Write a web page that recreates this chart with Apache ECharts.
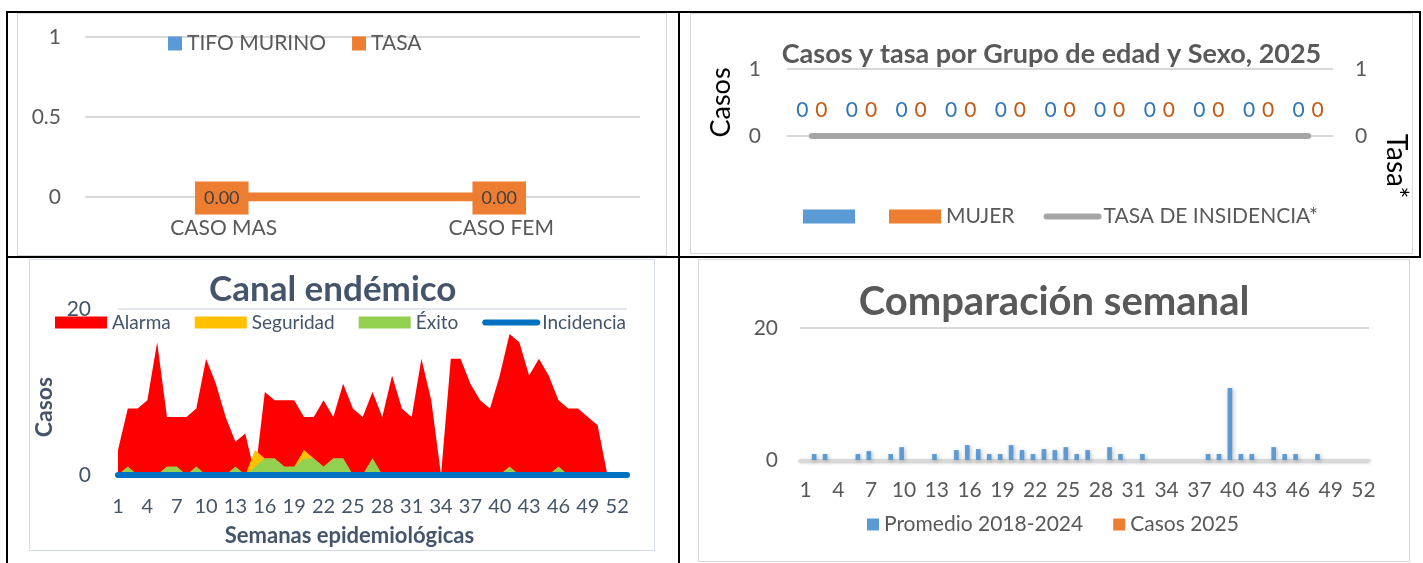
<!DOCTYPE html>
<html>
<head>
<meta charset="utf-8">
<script src="https://cdn.jsdelivr.net/npm/echarts@6/dist/echarts.min.js"></script>
<style>
  body { margin: 0; width: 1423px; height: 563px; background: #fff; position: relative; overflow: hidden; }
  .rule { position: absolute; background: #000; z-index: 5; }
  .box { position: absolute; box-sizing: border-box; border: 1px solid #d9d9d9; background: #fff; }
  .chart { position: absolute; left: 0; top: 0; width: 100%; height: 100%; }
</style>
</head>
<body>
<div class="box" style="left:17px;top:13px;width:650px;height:243px"><div id="c1" class="chart"></div></div>
<div class="box" style="left:690px;top:13px;width:723px;height:241px"><div id="c2" class="chart"></div></div>
<div class="box" style="left:29px;top:259px;width:626px;height:292px;border-color:#d6dce5"><div id="c3" class="chart"></div></div>
<div class="box" style="left:698px;top:259px;width:712px;height:303px"><div id="c4" class="chart"></div></div>

<div class="rule" style="left:6px;top:11px;width:1415px;height:2px"></div>
<div class="rule" style="left:6px;top:11px;width:2px;height:552px"></div>
<div class="rule" style="left:678px;top:11px;width:2px;height:552px"></div>
<div class="rule" style="left:1419px;top:11px;width:2px;height:247px"></div>
<div class="rule" style="left:6px;top:256px;width:1415px;height:2px"></div>

<script>
// casos por sexo
const sexCats = ['CASO MAS', 'CASO FEM'];
const tifoCases = [0, 0];
const tasaSexo = [0, 0];

// grupo de edad
const ageGroups = ['<1', '1-4', '5-9', '10-14', '15-19', '20-24', '25-44', '45-49', '50-59', '60-64', '65+'];
const hombres = [0, 0, 0, 0, 0, 0, 0, 0, 0, 0, 0];
const mujeres = [0, 0, 0, 0, 0, 0, 0, 0, 0, 0, 0];
const tasaEdad = [0, 0, 0, 0, 0, 0, 0, 0, 0, 0, 0];

// semanas
const weeks = ['1','2','3','4','5','6','7','8','9','10','11','12','13','14','15','16','17','18','19','20',
  '21','22','23','24','25','26','27','28','29','30','31','32','33','34','35','36','37','38','39','40',
  '41','42','43','44','45','46','47','48','49','50','51','52','53'];

// canal endemico
const alarma = [3, 8, 8, 9, 16, 7, 7, 7, 8, 14, 11, 7, 4, 5, 0, 10, 9, 9, 9, 7,
  7, 9, 7, 11, 8, 7, 10, 7, 12, 8, 7, 14, 9, 0, 14, 14, 11, 9, 8, 12,
  17, 16, 12, 14, 12, 9, 8, 8, 7, 6, 0, 0, 0];
const seguridad = [0, 1, 0, 0, 0, 1, 1, 0, 1, 0, 0, 0, 1, 0, 3, 2, 2, 1, 1, 3,
  2, 1, 2, 2, 0, 0, 2, 0, 0, 0, 0, 0, 0, 0, 0, 0, 0, 0, 0, 0,
  1, 0, 0, 0, 0, 1, 0, 0, 0, 0, 0, 0, 0];
const exito = [0, 1, 0, 0, 0, 1, 1, 0, 1, 0, 0, 0, 1, 0, 1, 2, 2, 1, 1, 2,
  2, 1, 2, 2, 0, 0, 2, 0, 0, 0, 0, 0, 0, 0, 0, 0, 0, 0, 0, 0,
  1, 0, 0, 0, 0, 1, 0, 0, 0, 0, 0, 0, 0];
const incidencia = [0, 0, 0, 0, 0, 0, 0, 0, 0, 0, 0, 0, 0, 0, 0, 0, 0, 0, 0, 0,
  0, 0, 0, 0, 0, 0, 0, 0, 0, 0, 0, 0, 0, 0, 0, 0, 0, 0, 0, 0,
  0, 0, 0, 0, 0, 0, 0, 0, 0, 0, 0, 0, 0];

// comparacion semanal (52 semanas)
const promedio = [0, 0.9, 0.9, 0, 0, 0.9, 1.35, 0, 0.9, 1.95, 0, 0, 0.9, 0, 1.5, 2.25, 1.65, 0.9, 0.9, 2.25,
  1.5, 0.9, 1.65, 1.5, 1.95, 0.9, 1.5, 0, 1.95, 0.9, 0, 0.9, 0, 0, 0, 0, 0, 0.9, 0.9, 10.9,
  0.9, 0.9, 0, 1.95, 0.9, 0.9, 0, 0.9, 0, 0, 0, 0];
const casos2025 = [0, 0, 0, 0, 0, 0, 0, 0, 0, 0, 0, 0, 0, 0, 0, 0, 0, 0, 0, 0,
  0, 0, 0, 0, 0, 0, 0, 0, 0, 0, 0, 0, 0, 0, 0, 0, 0, 0, 0, 0,
  0, 0, 0, 0, 0, 0, 0, 0, 0, 0, 0, 0];

const FONT = 'Lato';
const GRAY_TXT = '#595959';
const SLATE = '#44546A';
const BLUE = '#5B9BD5';
const ORANGE = '#ED7D31';

// ---- grafica 1: tifo murino por sexo
const chart1 = echarts.init(document.getElementById('c1'));
chart1.setOption({
  animation: false,
  textStyle: { fontFamily: FONT },
  grid: { left: 67, right: 26, top: 23, bottom: 58, outerBoundsMode: 'none' },
  legend: {
    left: 145, top: 14, itemWidth: 14, itemHeight: 14, itemGap: 26,
    textStyle: { fontFamily: FONT, fontSize: 21, color: GRAY_TXT },
    data: [{ name: 'TIFO MURINO', icon: 'rect' }, { name: 'TASA', icon: 'rect' }]
  },
  xAxis: {
    type: 'category', data: sexCats,
    axisLine: { show: false }, axisTick: { show: false },
    axisLabel: { fontFamily: FONT, fontSize: 21, color: GRAY_TXT, margin: 21 }
  },
  yAxis: {
    type: 'value', min: 0, max: 1, interval: 0.5,
    axisLabel: { fontFamily: FONT, fontSize: 21, color: GRAY_TXT, margin: 24 },
    splitLine: { lineStyle: { color: '#d9d9d9', width: 2 } }
  },
  series: [
    { name: 'TIFO MURINO', type: 'bar', data: tifoCases, itemStyle: { color: BLUE } },
    {
      name: 'TASA', type: 'line', data: tasaSexo, color: ORANGE,
      symbol: 'rect', symbolSize: 1,
      lineStyle: { width: 9, color: ORANGE },
      label: {
        show: true, position: 'inside', offset: [-2, 1], formatter: p => p.value.toFixed(2),
        backgroundColor: ORANGE, color: '#404040', fontFamily: FONT, fontSize: 18,
        padding: [8, 9, 7, 9]
      }
    }
  ]
});

// ---- grafica 2: grupo de edad y sexo
const chart2 = echarts.init(document.getElementById('c2'));
chart2.setOption({
  animation: false,
  textStyle: { fontFamily: FONT },
  title: {
    text: 'Casos y tasa por Grupo de edad y Sexo, 2025', left: 'center', top: 22,
    textStyle: { fontFamily: FONT, fontWeight: 'bold', fontSize: 27, color: GRAY_TXT }
  },
  grid: { left: 96, right: 79, top: 55, bottom: 117, outerBoundsMode: 'none' },
  legend: {
    left: 107, top: 187, itemWidth: 52, itemHeight: 14, itemGap: 29,
    textStyle: { fontFamily: FONT, fontSize: 21, color: GRAY_TXT },
    data: [
      { name: '\u200b', icon: 'rect' }, { name: 'MUJER', icon: 'rect' },
      { name: 'TASA DE INSIDENCIA*', itemStyle: { opacity: 0 }, lineStyle: { width: 6, cap: 'round' } }
    ]
  },
  xAxis: {
    type: 'category', data: ageGroups,
    axisLine: { show: false }, axisTick: { show: false }, axisLabel: { show: false }
  },
  yAxis: [
    {
      type: 'value', min: 0, max: 1, interval: 1,
      name: 'Casos', nameLocation: 'middle', nameGap: 52,
      nameTextStyle: { fontFamily: FONT, fontSize: 27, color: '#000' },
      axisLabel: { fontFamily: FONT, fontSize: 21, color: GRAY_TXT, margin: 26 },
      splitLine: { lineStyle: { color: '#d9d9d9', width: 2 } }
    },
    {
      type: 'value', min: 0, max: 1, interval: 1,
      axisLabel: { fontFamily: FONT, fontSize: 21, color: GRAY_TXT, margin: 22 },
      splitLine: { show: false }
    }
  ],
  graphic: [{
    type: 'text', x: 705, y: 152, rotation: -Math.PI / 2,
    style: { text: 'Tasa*', fontFamily: FONT, fontSize: 28, fill: '#000', align: 'center', verticalAlign: 'middle' }
  }],
  series: [
    {
      name: '\u200b', type: 'bar', data: hombres, barWidth: 17, barGap: '12%',
      itemStyle: { color: BLUE },
      label: { show: true, position: 'top', distance: 15, color: '#2E75B6', fontFamily: FONT, fontSize: 21 }
    },
    {
      name: 'MUJER', type: 'bar', data: mujeres, barWidth: 17,
      itemStyle: { color: ORANGE },
      label: { show: true, position: 'top', distance: 15, color: '#C65911', fontFamily: FONT, fontSize: 21 }
    },
    {
      name: 'TASA DE INSIDENCIA*', type: 'line', yAxisIndex: 1, data: tasaEdad,
      symbol: 'none', color: '#A5A5A5',
      lineStyle: { width: 6, color: '#A5A5A5', cap: 'round' }
    }
  ]
});

// ---- grafica 3: canal endemico
const chart3 = echarts.init(document.getElementById('c3'));
const areaSeries = (name, data, color) => ({
  name, type: 'line', data, symbol: 'none', color,
  lineStyle: { width: 0 }, areaStyle: { color, opacity: 1 }
});
chart3.setOption({
  animation: false,
  textStyle: { fontFamily: FONT },
  title: {
    text: 'Canal endémico', left: 174, top: 7,
    textStyle: { fontFamily: FONT, fontWeight: 'bold', fontSize: 35, color: SLATE }
  },
  grid: { left: 88, right: 27, top: 49, bottom: 75, outerBoundsMode: 'none' },
  legend: {
    left: 20, top: 48, itemWidth: 52, itemHeight: 12, itemGap: 24,
    textStyle: { fontFamily: FONT, fontSize: 19, color: SLATE },
    data: [
      { name: 'Alarma', icon: 'rect' }, { name: 'Seguridad', icon: 'rect' },
      { name: 'Éxito', icon: 'rect' },
      { name: 'Incidencia', itemStyle: { opacity: 0 }, lineStyle: { width: 6, cap: 'round' } }
    ]
  },
  xAxis: {
    type: 'category', data: weeks, boundaryGap: false,
    name: 'Semanas epidemiológicas', nameLocation: 'middle', nameGap: 50,
    nameTextStyle: { fontFamily: FONT, fontWeight: 'bold', fontSize: 22, color: SLATE, padding: [0, 46, 0, 0] },
    axisLine: { show: false }, axisTick: { show: false },
    axisLabel: { interval: 2, fontFamily: FONT, fontSize: 20, color: SLATE, margin: 22 }
  },
  yAxis: {
    type: 'value', min: 0, max: 20, interval: 20,
    name: 'Casos', nameLocation: 'middle', nameGap: 52,
    nameTextStyle: { fontFamily: FONT, fontWeight: 'bold', fontSize: 23, color: SLATE, padding: [0, 30, 0, 0] },
    axisLabel: { fontFamily: FONT, fontSize: 21, color: SLATE, margin: 27 },
    splitLine: { lineStyle: { color: '#e3e7ed', width: 2 } }
  },
  series: [
    areaSeries('Alarma', alarma, '#FF0000'),
    areaSeries('Seguridad', seguridad, '#FFC000'),
    areaSeries('Éxito', exito, '#92D050'),
    {
      name: 'Incidencia', type: 'line', data: incidencia, symbol: 'none', color: '#0070C0',
      lineStyle: { width: 6, color: '#0070C0', cap: 'round' }
    }
  ]
});

// ---- grafica 4: comparacion semanal
const chart4 = echarts.init(document.getElementById('c4'));
chart4.setOption({
  animation: false,
  textStyle: { fontFamily: FONT },
  title: {
    text: 'Comparación semanal', left: 'center', top: 17,
    textStyle: { fontFamily: FONT, fontWeight: 'bold', fontSize: 40, color: GRAY_TXT }
  },
  grid: { left: 101, right: 40, top: 68, bottom: 101, outerBoundsMode: 'none' },
  legend: {
    left: 163, top: 249, itemWidth: 12, itemHeight: 12, itemGap: 30,
    textStyle: { fontFamily: FONT, fontSize: 21, color: GRAY_TXT },
    data: [{ name: 'Promedio 2018-2024', icon: 'rect' }, { name: 'Casos 2025', icon: 'rect' }]
  },
  xAxis: {
    type: 'category', data: weeks.slice(0, 52),
    axisLine: { lineStyle: { color: '#d9d9d9', width: 3, shadowBlur: 3, shadowColor: 'rgba(0,0,0,0.25)', shadowOffsetY: 1 } },
    axisTick: { show: false },
    axisLabel: { interval: 2, fontFamily: FONT, fontSize: 21, color: GRAY_TXT, margin: 20 }
  },
  yAxis: {
    type: 'value', min: 0, max: 20, interval: 20,
    axisLabel: { fontFamily: FONT, fontSize: 21, color: GRAY_TXT, margin: 22 },
    splitLine: { lineStyle: { color: '#d9d9d9', width: 2 } }
  },
  series: [
    {
      name: 'Promedio 2018-2024', type: 'bar', data: promedio, barWidth: 4.6, barGap: '0%',
      itemStyle: { color: BLUE, shadowBlur: 4, shadowColor: 'rgba(0,0,0,0.3)', shadowOffsetX: 1, shadowOffsetY: 1 }
    },
    {
      name: 'Casos 2025', type: 'bar', data: casos2025, barWidth: 4.6,
      itemStyle: { color: ORANGE }
    }
  ]
});
</script>
</body>
</html>
